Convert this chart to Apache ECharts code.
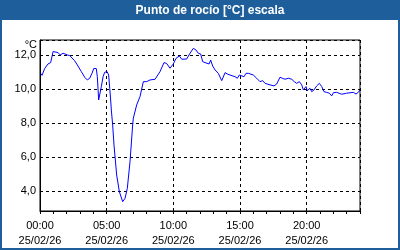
<!DOCTYPE html>
<html>
<head>
<meta charset="utf-8">
<script src="https://cdn.jsdelivr.net/npm/echarts@6/dist/echarts.min.js"></script>
<style>html,body{margin:0;padding:0;background:#fff}#c{width:400px;height:250px}</style>
</head>
<body>
<div id="c"></div>
<script>
// Hours since 00:00 on 25/02/26
const hours = [0.05,0.15,0.35,0.6,0.8,0.98,1.1,1.35,1.52,1.73,1.85,2.05,2.23,2.35,2.6,2.85,3.1,3.35,3.55,3.73,3.9,4.03,4.22,4.3,4.4,4.5,4.6,4.73,4.85,5.03,5.15,5.23,5.3,5.35,5.45,5.55,5.75,5.95,6.2,6.38,6.55,6.75,6.95,7.0,7.25,7.5,7.75,8.0,8.25,8.63,9.0,9.3,9.5,9.75,10.0,10.2,10.45,10.63,11.0,11.25,11.5,11.7,11.87,12.05,12.2,12.38,12.5,12.68,12.8,12.95,13.13,13.37,13.63,13.88,14.05,14.25,14.63,14.8,14.95,15.3,15.45,15.62,15.75,16.0,16.25,16.5,16.7,16.88,17.25,17.55,17.75,18.0,18.17,18.38,18.62,18.88,19.07,19.25,19.45,19.63,19.75,19.95,20.05,20.25,20.38,20.55,20.75,20.95,21.13,21.3,21.5,21.7,21.88,22.0,22.25,22.63,23.0,23.5,23.7,23.87,24.0];
// Dew point [°C]
const dewPoint = [10.92,10.8,11.2,11.47,11.55,12.2,12.24,12.14,12.0,12.1,12.2,12.0,11.96,11.9,11.66,11.35,11.02,10.69,10.53,10.63,10.92,11.2,11.2,10.72,9.35,9.45,10.14,10.72,10.98,11.02,10.82,10.04,9.35,8.76,7.88,6.7,4.94,3.96,3.37,3.57,4.16,5.72,7.88,8.28,9.06,9.55,10.43,10.43,10.53,10.57,11.02,11.55,11.5,11.22,11.47,11.8,11.94,11.75,11.76,12.1,12.39,12.29,12.1,12.06,11.61,11.55,11.61,11.47,11.7,11.35,11.12,10.92,10.49,10.96,10.88,10.82,10.72,10.63,10.82,10.72,10.92,10.92,11.02,10.82,10.63,10.43,10.49,10.33,10.24,10.18,10.29,10.69,10.63,10.57,10.63,10.57,10.43,10.33,10.43,10.24,9.94,10.14,9.9,10.04,9.84,9.94,10.18,10.33,10.14,9.84,9.8,9.75,9.59,9.78,9.8,9.69,9.75,9.8,9.7,9.8,9.94];
const xTickHours = [0,5,10,15,20];
const xTickLabels = ['00:00\n25/02/26','05:00\n25/02/26','10:00\n25/02/26','15:00\n25/02/26','20:00\n25/02/26'];
const titleText = 'Punto de rocío [°C] escala';
const unitText = '°C';

const FONT = 'Liberation Sans';
const chart = echarts.init(document.getElementById('c'), null, {renderer:'canvas'});
chart.setOption({
  animation: false,
  backgroundColor: '#fff',
  grid: {left: 40, right: 40, top: 40, bottom: 39, show: true, borderColor: '#000', borderWidth: 1, backgroundColor: 'transparent'},
  graphic: [
    {type:'rect', shape:{x:0,y:0,width:400,height:20}, style:{fill:'#1e5f9b'}, z:10},
    {type:'rect', shape:{x:1,y:1,width:398,height:248}, style:{fill:'none', stroke:'#1e5f9b', lineWidth:2}, z:10},
    {type:'text', x:210, y:11, style:{text:titleText, fill:'#fff', font:'bold 12px "'+FONT+'"', textAlign:'center', textVerticalAlign:'middle'}, z:11},
    {type:'text', x:37, y:45, style:{text:unitText, fill:'#000', font:'11px "'+FONT+'"', textAlign:'right', textVerticalAlign:'middle'}, z:11}
  ],
  xAxis: [
    {type:'value', min:0, max:24, interval:1, position:'bottom',
     axisLine:{show:true, lineStyle:{color:'#000', width:1}},
     axisTick:{show:true, length:3, lineStyle:{color:'#000'}},
     axisLabel:{show:false}, splitLine:{show:false}},
    {type:'value', min:0, max:24, interval:5, position:'bottom',
     axisLine:{show:false}, axisTick:{show:false},
     axisLabel:{show:true, showMaxLabel:false, margin:7, color:'#000', fontFamily:FONT, fontSize:11, lineHeight:15,
       formatter: function(v){ const i = xTickHours.indexOf(v); return i>=0 ? xTickLabels[i] : ''; }},
     splitLine:{show:true, lineStyle:{color:'#000', type:[3,3], width:1}}}
  ],
  yAxis: {type:'value', min:2.82, max:12.88,
    axisLine:{show:true, lineStyle:{color:'#000'}}, axisTick:{show:false},
    axisLabel:{showMinLabel:false, showMaxLabel:false, margin:4, color:'#000', fontFamily:FONT, fontSize:11,
      formatter: function(v){ return v.toFixed(1).replace('.', ','); }},
    splitLine:{show:true, lineStyle:{color:'#000', type:[3,3], width:1}}},
  series: [{type:'line', xAxisIndex:0, data: hours.map((h,i)=>[h, dewPoint[i]]),
    showSymbol:false, lineStyle:{color:'#0000ff', width:1}, itemStyle:{color:'#0000ff'}, z:5}]
});
</script>
</body>
</html>
